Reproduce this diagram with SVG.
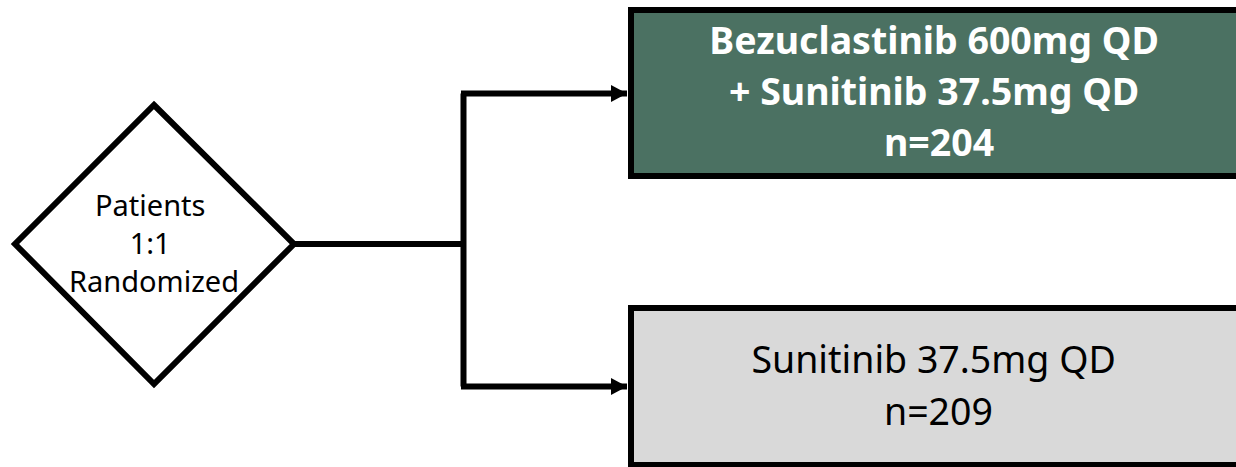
<svg xmlns="http://www.w3.org/2000/svg" width="1236" height="467" viewBox="0 0 1236 467">
  <style>
    .edge { fill: none; stroke: #000; stroke-width: 6; }
    .box { stroke: #000; stroke-width: 6; }
    .lbl { font-family: "Noto Sans", "Open Sans", sans-serif; text-anchor: middle; }
  </style>
  <defs>
    <marker id="arrow" markerUnits="userSpaceOnUse" markerWidth="18" markerHeight="18" refX="16" refY="9" orient="auto">
      <path d="M0,0.5 L16,9 L0,17.5 Z" fill="#000"/>
    </marker>
  </defs>
  <rect width="1236" height="467" fill="#fff"/>

  <!-- connectors: split from the randomization diamond into the two arms -->
  <g id="connectors">
    <path class="edge" d="M294,244 H463.5"/>
    <path class="edge" d="M463.5,93.5 V386.5"/>
    <path class="edge" d="M461,93.5 H627" marker-end="url(#arrow)"/>
    <path class="edge" d="M461,386.5 H627" marker-end="url(#arrow)"/>
  </g>

  <g id="randomization">
    <path class="box" fill="#fff" d="M154,105 L294,244 L154,384 L15,244 Z"/>
    <text class="lbl" font-size="29" fill="#000">
      <tspan x="154" y="216">Patients</tspan>
      <tspan x="154" y="254">1:1</tspan>
      <tspan x="154" y="292">Randomized</tspan>
    </text>
  </g>

  <g id="combo-arm">
    <rect class="box" x="631" y="10" width="640" height="166" fill="#4b7162"/>
    <text class="lbl" font-size="37.5" font-weight="bold" fill="#fff">
      <tspan x="939" y="54">Bezuclastinib 600mg QD</tspan>
      <tspan x="939" y="105">+ Sunitinib 37.5mg QD</tspan>
      <tspan x="939" y="156">n=204</tspan>
    </text>
  </g>

  <g id="control-arm">
    <rect class="box" x="631" y="308" width="640" height="157" fill="#d9d9d9"/>
    <text class="lbl" font-size="37.5" fill="#000">
      <tspan x="938.5" y="373">Sunitinib 37.5mg QD</tspan>
      <tspan x="938.5" y="425">n=209</tspan>
    </text>
  </g>
</svg>
